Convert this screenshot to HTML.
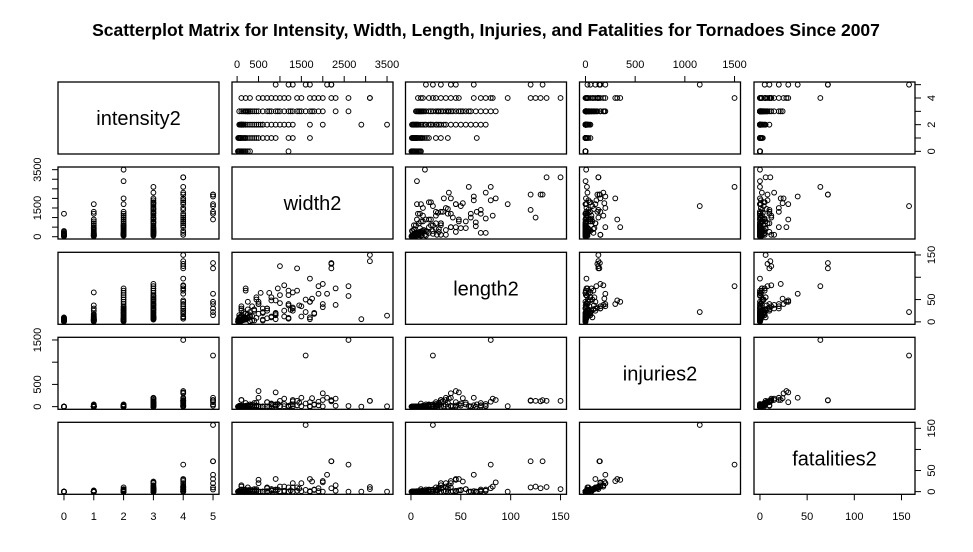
<!DOCTYPE html>
<html><head><meta charset="utf-8">
<style>
body{margin:0;background:#fff;}
svg{display:block;font-family:"Liberation Sans",Arial,sans-serif;}
</style></head>
<body>
<svg id="chart" width="973" height="552">
<text x="486" y="36" text-anchor="middle" font-size="17.5" font-weight="bold">Scatterplot Matrix for Intensity, Width, Length, Injuries, and Fatalities for Tornadoes Since 2007</text>
</svg>
<script>
// ---- data (one entry per tornado, arrays aligned) ----
const varNames = ["intensity2","width2","length2","injuries2","fatalities2"];
const intensity = [
 0,0,0,0,0,0,0,0,0,0,0,0,0,0,
 1,1,1,1,1,1,1,1,1,1,1,1,1,1,1,1,1,1,1,1,1,1,
 2,2,2,2,2,2,2,2,2,2,2,2,2,2,2,2,2,2,2,2,2,2,2,2,2,2,
 3,3,3,3,3,3,3,3,3,3,3,3,3,3,3,3,3,3,3,3,3,3,3,3,3,3,3,3,3,3,
 4,4,4,4,4,4,4,4,4,4,4,4,4,4,4,4,4,4,4,4,4,4,
 5,5,5,5,5,5,5,5,
 1,1,2,2,2,3,3,3,1,2,3,2,1,3,2,3,1,2,3,2];
const width = [
 20,40,50,75,100,120,150,175,200,250,300,50,30,1200,
 300,50,600,125,25,900,200,75,450,150,800,100,250,500,350,175,400,700,1200,1300,1700,75,
 400,100,700,50,1100,300,200,900,150,1300,250,600,2000,350,500,1700,450,800,1000,550,1200,200,600,2900,3500,100,
 600,200,1500,50,900,1800,300,1100,400,700,1300,100,2300,500,1000,250,800,1600,450,2600,1200,750,1400,950,1900,2000,1700,1250,1450,1750,
 1200,300,1800,700,100,1500,2000,500,900,1900,200,1100,1700,1400,1000,2200,3100,2600,3100,2300,600,800,
 900,1300,1600,1700,2100,2200,2200,1200,
 30,60,80,120,150,180,220,260,90,110,140,70,40,300,160,350,200,100,250,130];
const length = [
 0.5,1,2,3,4,5,6,7,8,10,1.5,2.5,3.5,9,
 1,2,3,4,5,6,7,8,9,10,12,14,16,18,3,5,25,30,37,66,6,11,
 3,5,8,10,12,15,18,20,22,25,28,30,33,35,40,45,50,55,60,65,70,75,20,6,14,26,
 5,8,12,15,18,20,22,25,28,30,32,35,38,40,42,45,48,50,55,58,60,65,70,75,80,85,10,27,37,52,
 7,12,18,25,30,35,40,45,48,63,70,82,97,120,125,130,136,80,150,75,22,10,
 15,30,22,45,63,132,120,40,
 1,3,2,5,4,7,6,9,2,3,8,1,4,11,6,13,5,2,10,7];
const injuries = [
 0,0,0,0,0,0,0,0,0,0,0,0,0,0,
 0,0,0,1,0,2,0,5,0,3,10,0,20,0,1,4,30,0,2,50,6,0,
 0,2,5,0,10,3,20,0,15,8,30,0,5,40,12,0,25,50,6,0,3,10,0,1,7,18,
 0,5,10,20,30,40,50,60,80,100,120,150,180,200,10,25,45,70,90,15,5,0,30,60,110,150,2,35,85,190,
 0,20,50,100,150,200,300,350,320,30,80,180,10,130,130,120,130,1500,130,20,5,70,
 50,150,1150,100,200,145,140,20,
 0,0,1,0,2,3,0,5,0,1,8,0,0,12,2,4,0,0,6,1];
const fatalities = [
 0,0,0,0,0,0,0,0,0,0,0,0,0,0,
 0,0,0,0,0,0,0,1,0,0,2,0,0,0,0,0,3,0,0,0,1,0,
 0,0,1,0,2,0,0,0,4,0,10,0,0,1,0,0,3,6,0,0,0,2,0,0,0,5,
 0,0,1,2,3,4,5,0,6,8,10,12,15,20,1,2,3,4,6,0,0,0,2,5,8,22,0,3,7,24,
 0,2,5,10,15,20,25,28,30,1,5,12,0,10,12,8,11,64,6,2,0,6,
 5,20,158,30,40,72,72,10,
 0,0,0,0,0,0,0,1,0,0,0,0,0,2,0,0,0,0,1,0];
// ticks / labels per variable
const tickVals = [[0,1,2,3,4,5],[0,500,1000,1500,2000,2500,3000,3500],[0,50,100,150],[0,500,1000,1500],[0,50,100,150]];
const tickLabels = [["0","2","4"],["0","1500","3500"],["0","50","150"],["0","500","1500"],["0","50","150"]];
const bottomLabels = [["0","1","2","3","4","5"],null,["0","50","100","150"],null,["0","50","100","150"]];
const topLabels = [null,["0","500","1500","2500","3500"],null,["0","500","1000","1500"],null];

const NS="http://www.w3.org/2000/svg";
const svg=document.getElementById('chart');
const data=[intensity,width,length,injuries,fatalities];
const colX=[58,232,405.5,579.5,754], rowY=[82,167,252.3,337.3,422.3], PW=161, PH=72;
const ranges=data.map(a=>[Math.min(...a),Math.max(...a)]);
function sx(v,j){const [a,b]=ranges[j];const r=b-a;return colX[j]+(v-a+0.04*r)/(1.08*r)*PW;}
function sy(v,i){const [a,b]=ranges[i];const r=b-a;return rowY[i]+PH-(v-a+0.04*r)/(1.08*r)*PH;}
function mk(tag,attrs,parent){const e=document.createElementNS(NS,tag);for(const k in attrs)e.setAttribute(k,attrs[k]);(parent||svg).appendChild(e);return e;}
function txt(x,y,s,size,rot){const t=mk('text',{x:x,y:y,'font-size':size,'text-anchor':'middle'});if(rot)t.setAttribute('transform','rotate(-90 '+x+' '+y+')');t.textContent=s;return t;}

for(let i=0;i<5;i++){for(let j=0;j<5;j++){
  const g=mk('g',{});
  
  
  const r=mk('rect',{x:colX[j],y:rowY[i],width:PW,height:PH,fill:'none',stroke:'#000','stroke-width':1.3},g);
  
  
  if(i===j){
    const t=mk('text',{x:colX[j]+PW/2,y:rowY[i]+PH/2+7,'font-size':20,'text-anchor':'middle'},g);
    t.textContent=varNames[i];
    
    
    continue;
  }
  for(let k=0;k<intensity.length;k++){
    const c=mk('circle',{cx:sx(data[j][k],j),cy:sy(data[i][k],i),r:2.4,fill:'none',stroke:'#000','stroke-width':1},g);
    
    
  }
}}
function axisLine(x1,y1,x2,y2){const l=mk('line',{x1:x1,y1:y1,x2:x2,y2:y2,stroke:'#000','stroke-width':1});}
// top axes (cols 1,3)
[1,3].forEach(j=>{const t=tickVals[j];
 t.forEach(v=>axisLine(sx(v,j),rowY[0]-6,sx(v,j),rowY[0]));
 topLabels[j].forEach(s=>{const e=txt(sx(+s,j),68,s,11);});});
// bottom axes (cols 0,2,4)
[0,2,4].forEach(j=>{const t=tickVals[j];const yb=rowY[4]+PH;
 t.forEach(v=>axisLine(sx(v,j),yb,sx(v,j),yb+6));
 bottomLabels[j].forEach(s=>{const e=txt(sx(+s,j),520,s,11);});});
// left axes (rows 1,3)
[1,3].forEach(i=>{const t=tickVals[i];
 t.forEach(v=>axisLine(colX[0]-6,sy(v,i),colX[0],sy(v,i)));
 tickLabels[i].forEach(s=>{const e=txt(41,sy(+s,i),s,11,true);});});
// right axes (rows 0,2,4)
[0,2,4].forEach(i=>{const t=tickVals[i];const xr=colX[4]+PW;
 t.forEach(v=>axisLine(xr,sy(v,i),xr+6,sy(v,i)));
 tickLabels[i].forEach(s=>{const e=txt(935,sy(+s,i),s,11,true);});});
</script>
</body></html>
